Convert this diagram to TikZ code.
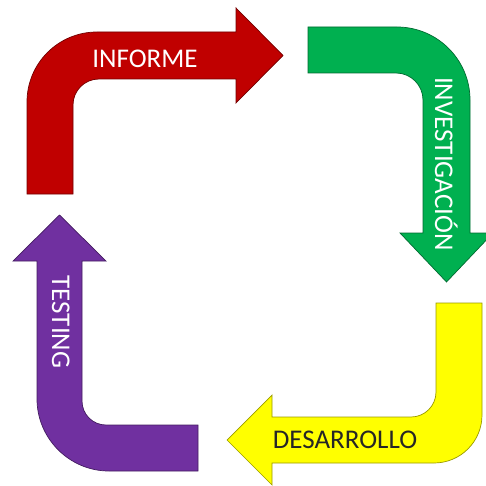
\documentclass[tikz,border=0pt]{standalone}
\usepackage{fontspec}
\setmainfont{Carlito}
\definecolor{cRed}{HTML}{C00000}
\definecolor{cGreen}{HTML}{00B050}
\definecolor{cYellow}{HTML}{FFFF00}
\definecolor{cPurple}{HTML}{7030A0}
\begin{document}
\begin{tikzpicture}[x=1pt,y=-1pt,
  bent/.style={fill=#1, draw=#1!60!black, line width=0.7pt, line join=miter},
  label/.style={font=\fontsize{27}{27}\selectfont, inner sep=0pt, anchor=base}]
\useasboundingbox (0,0) rectangle (486,486);

% INFORME: up and to the right
\path[bent=cRed] (27,194) -- (27,102) .. controls (27,63.3) and (58.3,32) .. (97,32)
  -- (236,32) -- (236,8) -- (283,55.5) -- (236,103) -- (236,79) -- (99,79)
  .. controls (84.6,79) and (73,90.6) .. (73,105) -- (73,194) -- cycle;

% INVESTIGACION: right and down
\path[bent=cGreen] (308,27) -- (397,27) .. controls (437.3,27) and (470,59.7) .. (470,100)
  -- (470,233) -- (493,233) -- (446.5,282) -- (400,233) -- (423,233) -- (423,100)
  .. controls (423,85.1) and (410.9,73) .. (396,73) -- (308,73) -- cycle;

% DESARROLLO: down and to the left
\path[bent=cYellow] (436,303) -- (482,303) -- (482,415) .. controls (482,441.5) and (460.5,463) .. (434,463)
  -- (272,463) -- (272,485) -- (227,440) -- (272,395) -- (272,417) -- (411,417)
  .. controls (424.8,417) and (436,405.8) .. (436,392) -- cycle;

% TESTING: left and up
\path[bent=cPurple] (198,471) -- (109,471) .. controls (69.2,471) and (37,438.2) .. (37,399)
  -- (37,261) -- (13,261) -- (59.5,215) -- (106,261) -- (82,261) -- (82,401)
  .. controls (82,414.3) and (92.7,425) .. (106,425) -- (198,425) -- cycle;

\node[label, text=white] (informe) at (145,68) {INFORME};
\node[label, text=white, rotate=-90] (investigacion) at (435,164) {INVESTIGACIÓN};
\node[label, text=black!85] (desarrollo) at (345,448) {DESARROLLO};
\node[label, text=white, rotate=-90] (testing) at (52,322) {TESTING};
\end{tikzpicture}
\end{document}
